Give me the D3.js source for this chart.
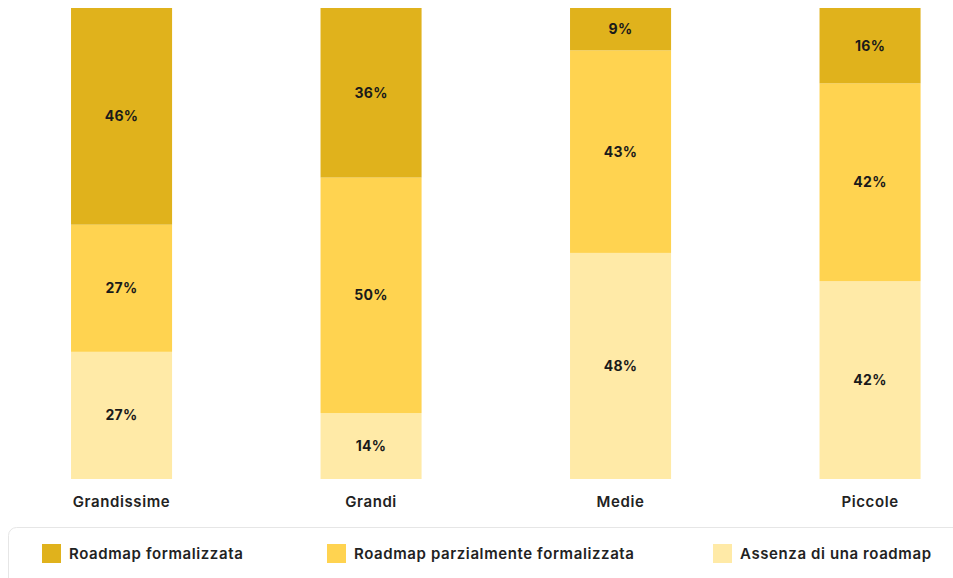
<!DOCTYPE html>
<meta charset="utf-8">
<title>Roadmap</title>
<style>
body { margin: 0; background: #fff; }
svg { display: block; font-family: Inter, "Noto Sans", sans-serif; }
</style>
<svg width="953" height="578"></svg>
<script src="https://d3js.org/d3.v7.min.js"></script>
<script>

var categories = ["Grandissime", "Grandi", "Medie", "Piccole"];
var keys = ["formalizzata", "parziale", "assenza"];
var legendLabels = ["Roadmap formalizzata", "Roadmap parzialmente formalizzata", "Assenza di una roadmap"];
var formalizzata = [46, 36, 9, 16];
var parziale = [27, 50, 43, 42];
var assenza = [27, 14, 48, 42];
var colors = ["#e0b21c", "#ffd350", "#ffeaa7"];

var rows = categories.map(function(c, i) {
  return { cat: c, formalizzata: formalizzata[i], parziale: parziale[i], assenza: assenza[i] };
});

// stack from the bottom: assenza first
var stack = d3.stack().keys(keys.slice().reverse());
var layers = stack(rows);

var svg = d3.select("svg");

var x = d3.scaleBand()
    .domain(categories)
    .range([-3.2, 994.8])
    .paddingInner(0.595)
    .paddingOuter(0.2975);

var y = d3.scaleLinear()
    .domain([0, 100])
    .range([479, 8]);

var z = d3.scaleOrdinal().domain(keys).range(colors);

var g = svg.selectAll("g.layer")
  .data(layers)
  .enter().append("g")
    .attr("class", "layer")
    .attr("fill", function(d) { return z(d.key); });

g.selectAll("rect")
  .data(function(d) { return d; })
  .enter().append("rect")
    .attr("x", function(d) { return x(d.data.cat); })
    .attr("width", x.bandwidth())
    .attr("y", function(d) { return y(d[1]); })
    .attr("height", function(d) { return y(d[0]) - y(d[1]); });

g.selectAll("text")
  .data(function(d) { return d; })
  .enter().append("text")
    .attr("x", function(d) { return x(d.data.cat) + x.bandwidth() / 2; })
    .attr("y", function(d) { return (y(d[0]) + y(d[1])) / 2; })
    .attr("dy", "0.35em")
    .attr("text-anchor", "middle")
    .attr("fill", "#1a1a1a")
    .style("font-size", "14px")
    .style("font-weight", 700)
    .style("letter-spacing", "0.3px")
    .text(function(d) { return (d[1] - d[0]) + "%"; });

// category labels
svg.append("g")
  .selectAll("text")
  .data(categories)
  .enter().append("text")
    .attr("x", function(d) { return x(d) + x.bandwidth() / 2; })
    .attr("y", 507)
    .attr("text-anchor", "middle")
    .attr("fill", "#222")
    .style("font-size", "15px")
    .style("font-weight", 600)
    .style("letter-spacing", "0.6px")
    .text(function(d) { return d; });

// legend
svg.append("rect")
    .attr("x", 8.5).attr("y", 527.5)
    .attr("width", 960).attr("height", 70)
    .attr("rx", 8)
    .attr("fill", "#fff")
    .attr("stroke", "#e6e6e6");

var legendX = [42, 327, 713];
var lg = svg.append("g")
  .selectAll("g")
  .data(keys)
  .enter().append("g")
    .attr("transform", function(d, i) { return "translate(" + legendX[i] + ",544)"; });

lg.append("rect")
    .attr("width", 19).attr("height", 19)
    .attr("fill", function(d) { return z(d); });

lg.append("text")
    .attr("x", 27).attr("y", 9.5)
    .attr("dy", "0.35em")
    .attr("fill", "#222")
    .style("font-size", "15px")
    .style("font-weight", 600)
    .style("letter-spacing", "0.6px")
    .text(function(d, i) { return legendLabels[i]; });

</script>
